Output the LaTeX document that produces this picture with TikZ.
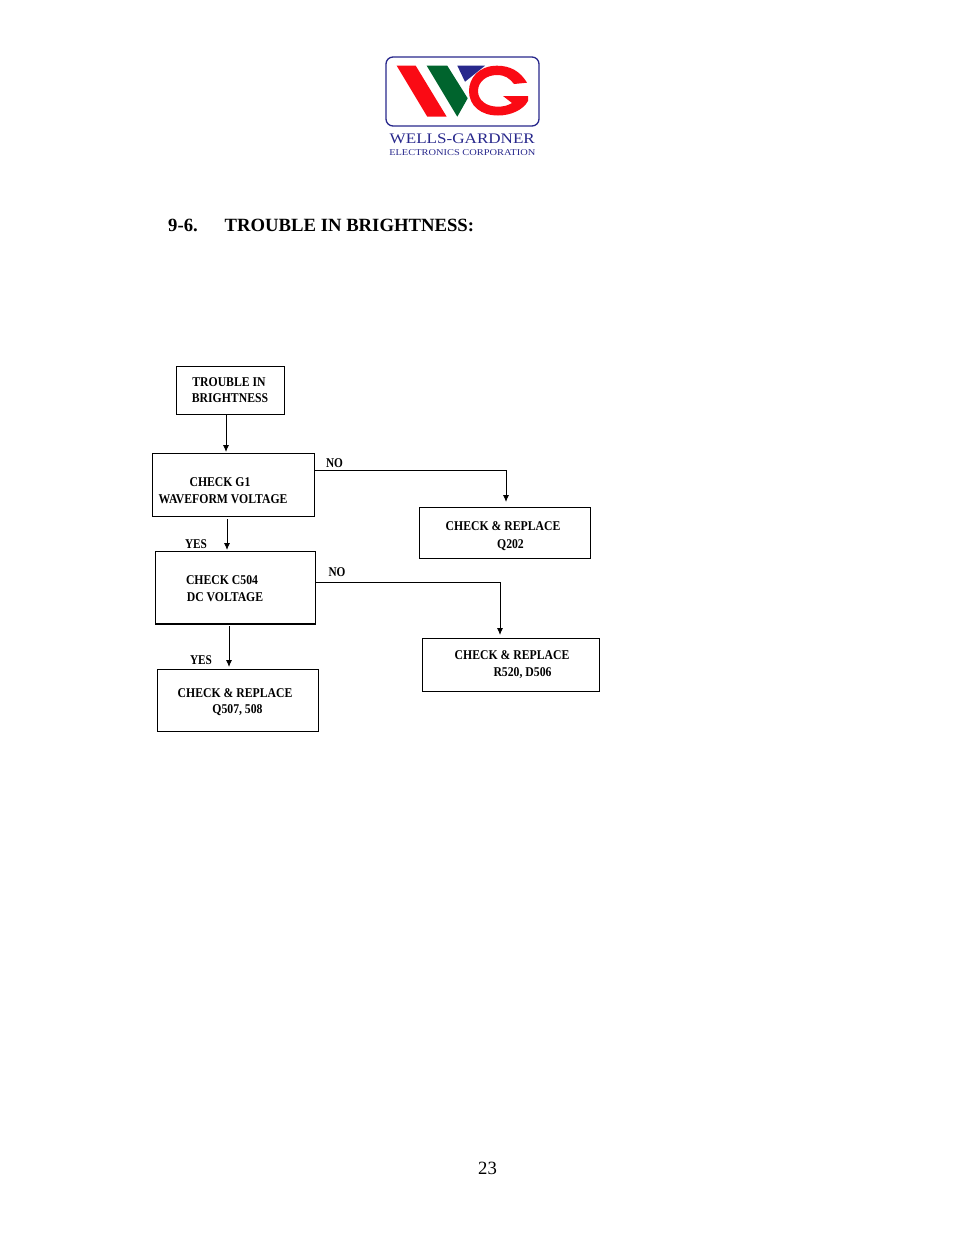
\documentclass[tikz,border=0pt]{standalone}
\usepackage{fontspec}
\usetikzlibrary{arrows.meta}
\setmainfont{Liberation Serif}
\newfontfamily\flowfont[FakeStretch=0.875]{Liberation Serif}
\newfontfamily\labfont[FakeStretch=0.84]{Liberation Serif}
\newfontfamily\logofont[FakeStretch=1.17]{Liberation Serif}
\definecolor{wgnavy}{RGB}{40,40,140}
\definecolor{wgred}{RGB}{250,10,20}
\definecolor{wggreen}{RGB}{0,100,45}
\tikzset{
  flowbox/.style={draw=black,line width=0.9pt,rectangle,inner sep=0pt},
  flowtext/.style={font=\flowfont\fontsize{13.4}{15}\selectfont\bfseries,inner sep=0pt,anchor=base},
  lab/.style={font=\labfont\fontsize{13.4}{15}\selectfont\bfseries,inner sep=0pt,anchor=base},
  conn/.style={draw=black,line width=0.9pt,-{Latex[length=7pt,width=6pt]}},
}
\begin{document}
\begin{tikzpicture}[x=1pt,y=-1pt]
\useasboundingbox (0,0) rectangle (954,1235);
% logo
\draw[wgnavy,line width=1.3pt,rounded corners=7pt] (386,57) rectangle (539,126);
\fill[wgred] (396.7,65.7)--(415.7,65.7)--(446.7,116.7)--(427.3,116.7)--cycle;
\fill[wggreen] (426.7,65.7)--(447.3,65.7)--(467.7,98.3)--(457.3,116.7)--cycle;
\fill[wgnavy] (457.3,65.7)--(485,65.7)--(465,81.7)--cycle;
\fill[wgred] (527,82.7) .. controls (520,71) and (510,65.7) .. (497,65.7)
  .. controls (479,65.7) and (469,78) .. (469,91)
  .. controls (469,106) and (481,115.5) .. (498,115.5)
  .. controls (511,115.5) and (523,110) .. (528,101)
  -- (528,96) -- (503,96) -- (512,103)
  .. controls (508,105.5) and (503,106.7) .. (498,106.7)
  .. controls (486,106.7) and (478,100) .. (478,91)
  .. controls (478,82) and (486,75) .. (497,75)
  .. controls (505,75) and (510,78.5) .. (514,84) -- cycle;
\node[text=wgnavy,font=\logofont\fontsize{14.6}{16}\selectfont,inner sep=0pt,anchor=base] (logoa) at (462.3,143) {WELLS-GARDNER};
\node[text=wgnavy,font=\logofont\fontsize{8.9}{10}\selectfont,inner sep=0pt,anchor=base] (logob) at (462.3,155) {ELECTRONICS CORPORATION};
% heading
\node[font=\fontsize{18.7}{20}\selectfont\bfseries,inner sep=0pt,anchor=base west] (hnum) at (168,231) {9-6.};
\node[font=\fontsize{18.7}{20}\selectfont\bfseries,inner sep=0pt,anchor=base west] (htitle) at (224.5,231) {TROUBLE IN BRIGHTNESS:};
\node[font=\fontsize{18.7}{20}\selectfont,inner sep=0pt,anchor=base] (pageno) at (487.5,1174) {23};
% boxes
\node[flowbox,minimum width=108pt,minimum height=48pt] (trouble) at (230.5,390) {};
\node[flowbox,minimum width=162pt,minimum height=63pt] (gone) at (233.5,485) {};
\node[flowbox,minimum width=160pt,minimum height=72.5pt] (cfive) at (235.5,587.75) {};
\draw[line width=2pt] (cfive.south west) -- (cfive.south east);
\node[flowbox,minimum width=161pt,minimum height=62pt] (qfive) at (238,700.5) {};
\node[flowbox,minimum width=171pt,minimum height=51pt] (qtwo) at (505,533) {};
\node[flowbox,minimum width=177pt,minimum height=53pt] (rfive) at (511,665) {};
% box texts
\node[flowtext] (t1a) at (229,386) {TROUBLE IN};
\node[flowtext] (t1b) at (230,402) {BRIGHTNESS};
\node[flowtext] (t2a) at (220,486) {CHECK G1};
\node[flowtext] (t2b) at (223,503) {WAVEFORM VOLTAGE};
\node[flowtext] (t3a) at (222,584) {CHECK C504};
\node[flowtext] (t3b) at (225,601) {DC VOLTAGE};
\node[flowtext] (t4a) at (235,697) {CHECK \& REPLACE};
\node[flowtext] (t4b) at (237.5,713) {Q507, 508};
\node[flowtext] (t5a) at (503,530) {CHECK \& REPLACE};
\node[flowtext] (t5b) at (510.5,548) {Q202};
\node[flowtext] (t6a) at (512,659) {CHECK \& REPLACE};
\node[flowtext] (t6b) at (522.5,676) {R520, D506};
% labels
\node[lab] (no1) at (334.5,467) {NO};
\node[lab] (no2) at (337,576) {NO};
\node[lab] (yes1) at (196,548) {YES};
\node[lab] (yes2) at (201,664) {YES};
% connector ends
\coordinate (c1s) at (226,414);
\coordinate (c1e) at (226,452);
\coordinate (c2s) at (227,519);
\coordinate (c2e) at (227,550);
\coordinate (c3s) at (229,626);
\coordinate (c3e) at (229,667);
\coordinate (c4s) at (314.5,470);
\coordinate (c4k) at (506,470);
\coordinate (c4e) at (506,502);
\coordinate (c5s) at (315.5,582);
\coordinate (c5k) at (500,582);
\coordinate (c5e) at (500,635);
\draw[conn] (c1s) -- (c1e);
\draw[conn] (c2s) -- (c2e);
\draw[conn] (c3s) -- (c3e);
\draw[conn] (c4s) -- (c4k) -- (c4e);
\draw[conn] (c5s) -- (c5k) -- (c5e);
\end{tikzpicture}
\end{document}
